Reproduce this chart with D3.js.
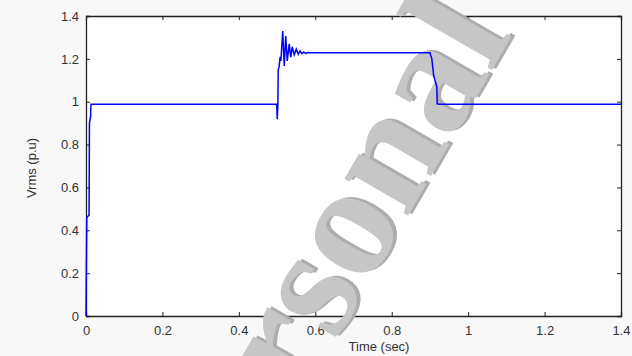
<!DOCTYPE html>
<html>
<head>
<meta charset="utf-8">
<script src="https://cdn.jsdelivr.net/npm/d3@7"></script>
<style>
  html, body { margin: 0; padding: 0; background: #f8f8f8; }
  svg { display: block; }
  text { font-family: "Liberation Sans", Arial, Helvetica, sans-serif; }
</style>
</head>
<body>
<svg id="chart" width="632" height="356"></svg>
<script>
// Data
const time = [0, 0.001, 0.002, 0.008, 0.009, 0.012, 0.013,
  0.499, 0.5005, 0.502, 0.503, 0.505, 0.508, 0.510,
  0.5148, 0.5187, 0.5227, 0.5266, 0.5318, 0.5358, 0.5397, 0.5449, 0.5502, 0.5554,
  0.560, 0.565, 0.570, 0.575, 0.580, 0.587,
  0.900, 0.905, 0.910, 0.918, 0.919, 0.925, 1.4];
const vrms = [0, 0.23, 0.46, 0.47, 0.90, 0.93, 0.988,
  0.988, 0.918, 0.985, 1.15, 1.16, 1.21, 1.19,
  1.33, 1.167, 1.307, 1.19, 1.27, 1.208, 1.256, 1.219, 1.245, 1.222,
  1.237, 1.224, 1.232, 1.225, 1.230, 1.228,
  1.228, 1.20, 1.12, 1.07, 0.99, 0.988, 0.988];
const xTicks = [0, 0.2, 0.4, 0.6, 0.8, 1, 1.2, 1.4];
const yTicks = [0, 0.2, 0.4, 0.6, 0.8, 1, 1.2, 1.4];
const xLabel = "Time (sec)";
const yLabel = "Vrms (p.u)";
const watermark = "Personal";

const svg = d3.select("#chart");
const m = {left: 86, top: 16, right: 11, bottom: 40};
const W = 632 - m.left - m.right, H = 356 - m.top - m.bottom;

const x = d3.scaleLinear().domain([0, 1.4]).range([0, W]);
const y = d3.scaleLinear().domain([0, 1.4]).range([H, 0]);
const fmt = d => d3.format("")(+d.toFixed(1));

const g = svg.append("g").attr("transform", `translate(${m.left},${m.top})`);
g.append("rect").attr("width", W).attr("height", H).attr("fill", "#ffffff");

const tl = 4;
const axB = g.append("g").attr("transform", `translate(0,${H})`)
  .call(d3.axisBottom(x).tickValues(xTicks).tickSize(-tl).tickPadding(10).tickFormat(fmt));
const axT = g.append("g")
  .call(d3.axisTop(x).tickValues(xTicks).tickSize(-tl).tickFormat(""));
const axL = g.append("g")
  .call(d3.axisLeft(y).tickValues(yTicks).tickSize(-tl).tickPadding(7).tickFormat(fmt));
const axR = g.append("g").attr("transform", `translate(${W},0)`)
  .call(d3.axisRight(y).tickValues(yTicks).tickSize(-tl).tickFormat(""));
[axB, axT, axL, axR].forEach(a => {
  a.select(".domain").attr("stroke", "#222").attr("stroke-width", 1.3);
  a.selectAll(".tick line").attr("stroke", "#222");
  a.selectAll("text").attr("fill", "#333").style("font-size", "13px");
});

svg.append("text").attr("x", 379).attr("y", 351).attr("text-anchor", "middle")
  .attr("fill", "#333").style("font-size", "13px").text(xLabel);
svg.append("text").attr("transform", "translate(36,168) rotate(-90)")
  .attr("text-anchor", "middle").attr("fill", "#333").style("font-size", "13px").text(yLabel);

// watermark
const wm = svg.append("g").attr("transform", "translate(215,550) rotate(-60)");
wm.append("text").attr("x", 3).attr("y", 3).attr("fill", "#adadad")
  .style("font-family", "'Liberation Serif', serif").style("font-weight", "bold")
  .style("font-size", "160px").text(watermark);
wm.append("text").attr("fill", "#c6c6c6")
  .style("font-family", "'Liberation Serif', serif").style("font-weight", "bold")
  .style("font-size", "160px").text(watermark);

// data line on top of the watermark
const gl = svg.append("g").attr("transform", `translate(${m.left},${m.top})`);
const line = d3.line().x((d, i) => x(time[i])).y((d, i) => y(vrms[i]));
gl.append("path").datum(vrms).attr("d", line).attr("fill", "none")
  .attr("stroke", "#0000ff").attr("stroke-width", 1.5);
</script>
</body>
</html>
